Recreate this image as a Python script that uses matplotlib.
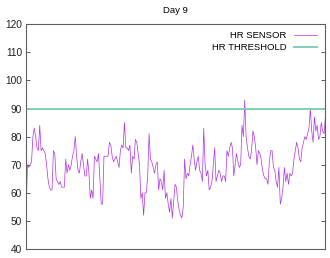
import numpy as np
import matplotlib
matplotlib.use("Agg")
import matplotlib.pyplot as plt

# heart rate readings across the day
hr_sensor = [53, 70, 69, 70, 71, 80, 83, 80, 76, 75, 84, 75, 76, 75, 74, 70, 65, 62, 61,
             61, 75, 74, 65, 64, 63, 64, 62, 62, 62, 72, 67, 70, 68, 70, 73, 75, 80, 73,
             68, 67, 71, 74, 70, 66, 66, 72, 67, 58, 61, 58, 73, 72, 71, 74, 65, 56, 56,
             73, 73, 73, 73, 78, 77, 73, 71, 72, 73, 71, 69, 75, 77, 76, 85, 76, 76, 75,
             77, 67, 73, 72, 79, 78, 74, 70, 58, 60, 52, 60, 60, 66, 81, 72, 71, 69, 67,
             70, 71, 61, 65, 64, 61, 68, 58, 60, 56, 53, 58, 51, 57, 63, 62, 57, 54, 52,
             51, 55, 72, 65, 67, 66, 70, 73, 77, 72, 68, 71, 73, 68, 67, 64, 83, 70, 66,
             68, 61, 62, 64, 70, 76, 64, 66, 68, 67, 64, 66, 66, 64, 75, 73, 76, 78, 76,
             66, 70, 74, 71, 69, 70, 84, 80, 93, 80, 76, 73, 72, 75, 82, 80, 76, 70, 75,
             74, 72, 68, 66, 65, 65, 63, 71, 75, 75, 69, 68, 64, 62, 69, 56, 58, 62, 69,
             64, 67, 63, 67, 66, 67, 72, 75, 78, 76, 72, 71, 76, 78, 80, 79, 81, 83, 90,
             82, 78, 87, 82, 84, 79, 80, 85, 82, 81, 87]
hr_threshold = 90
y_ticks = [40, 50, 60, 70, 80, 90, 100, 110, 120]

plt.rcParams['font.family'] = ['Liberation Sans', 'DejaVu Sans']

fig = plt.figure(figsize=(3.3, 2.58), dpi=100)
ax = fig.add_axes([0.079, 0.035, 0.907, 0.871])

x = np.arange(len(hr_sensor))
ax.plot(x, hr_sensor, color='#b030e8', lw=0.5, label='HR SENSOR')
ax.axhline(hr_threshold, color='#80d0b4', lw=1.4, label='HR THRESHOLD')

ax.set_xlim(0, len(hr_sensor) - 1)
ax.set_ylim(40, 120)
ax.set_yticks(y_ticks)
ax.set_xticks([])
ax.tick_params(axis='y', direction='in', length=3, width=0.6, right=True,
               labelsize=7.3, colors='#404040', pad=3)
ax.tick_params(axis='y', labelcolor='#202020')
for s in ax.spines.values():
    s.set_color('#606060')
    s.set_linewidth(0.8)

ax.set_title('Day 9', fontsize=6.8, pad=8)
leg = ax.legend(loc='upper right', bbox_to_anchor=(0.99, 0.995), frameon=False,
                fontsize=6.8, markerfirst=False, handlelength=2.4,
                borderaxespad=0.2, labelspacing=0.35)

fig.savefig('out.png', dpi=100)
